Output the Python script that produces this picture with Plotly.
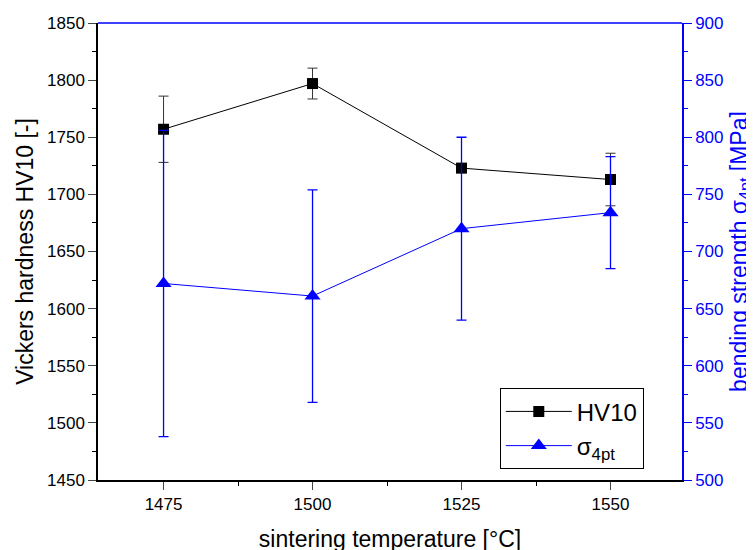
import plotly.graph_objects as go

temps = [1475, 1500, 1525, 1550]
hv10 = [1757, 1797, 1723, 1713]
hv10_err = [29, 13.5, 4, 23]
sigma = [672, 661, 720, 734]
sigma_err = [134, 93, 80, 49]

FONT = "Liberation Sans, Arial, sans-serif"
BLUE = "#0000ff"

fig = go.Figure()
fig.add_trace(go.Scatter(
    x=temps, y=hv10, name="HV10", mode="lines+markers",
    line=dict(color="black", width=1),
    marker=dict(symbol="square", size=11, color="black"),
    error_y=dict(type="data", array=hv10_err, color="#333333", thickness=1, width=5),
))
fig.add_trace(go.Scatter(
    x=temps, y=sigma, name="σ<sub>4pt</sub>", mode="lines+markers", yaxis="y2",
    line=dict(color=BLUE, width=1),
    marker=dict(symbol="triangle-up", size=14, color=BLUE),
    error_y=dict(type="data", array=sigma_err, color=BLUE, thickness=1.3, width=5),
))

fig.update_layout(
    width=754, height=550,
    margin=dict(l=90, r=80, t=15, b=78, autoexpand=False),
    paper_bgcolor="white", plot_bgcolor="white",
    font=dict(family=FONT, size=17, color="black"),
    showlegend=True,
    legend=dict(x=0.688, y=0.112, xanchor="left", yanchor="middle",
                bordercolor="black", borderwidth=1, bgcolor="white",
                font=dict(size=24), tracegroupgap=0, itemwidth=66),
    xaxis=dict(range=[1464, 1562], tickvals=temps, ticks="outside", ticklen=8,
               tickwidth=1, showline=True, linecolor="black", linewidth=1.5,
               showgrid=False, zeroline=False, automargin=False,
               minor=dict(dtick=12.5, tick0=1475, ticks="outside", ticklen=4, tickcolor="black"),
               title=dict(text="sintering temperature [°C]", font=dict(size=23), standoff=18)),
    yaxis=dict(range=[1450, 1850], dtick=50, ticks="outside", ticklen=8, tickwidth=1,
               showline=True, linecolor="black", linewidth=1.5, showgrid=False, zeroline=False,
               automargin=False,
               minor=dict(dtick=25, ticks="outside", ticklen=4, tickcolor="black"),
               title=dict(text="Vickers hardness HV10 [-]", font=dict(size=23), standoff=7)),
    yaxis2=dict(range=[500, 900], dtick=50, overlaying="y", side="right", anchor="x",
                ticks="outside", ticklen=8, tickwidth=1, tickcolor=BLUE,
                showline=True, linecolor=BLUE, linewidth=1.5, showgrid=False, zeroline=False,
                automargin=False, tickfont=dict(color=BLUE),
                minor=dict(dtick=25, ticks="outside", ticklen=4, tickcolor=BLUE),
                title=dict(text="bending strength σ<sub>4pt</sub> [MPa]", font=dict(size=23, color=BLUE), standoff=8)),
)
fig.add_shape(type="line", xref="paper", yref="paper", x0=0, x1=1, y0=1, y1=1,
              line=dict(color=BLUE, width=1.5))

fig.write_html("out.html")
